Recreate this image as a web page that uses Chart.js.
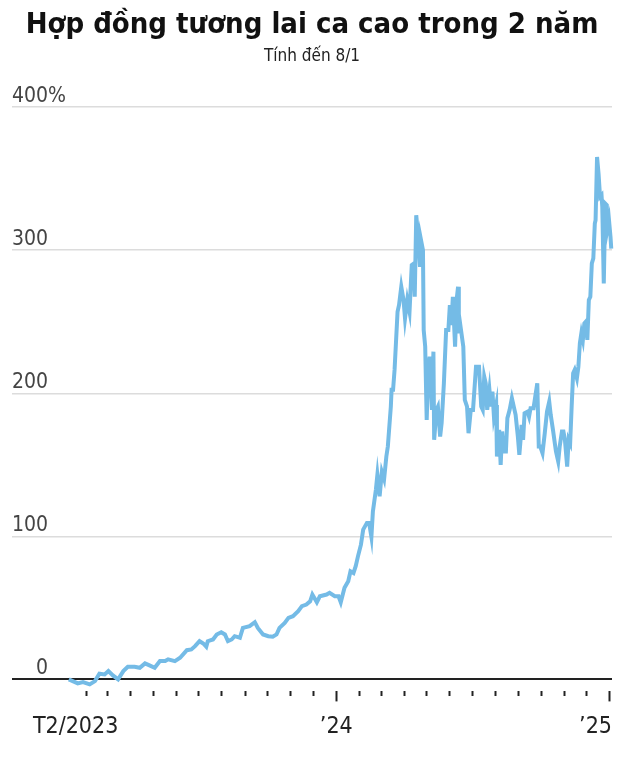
<!DOCTYPE html>
<html>
<head>
<meta charset="utf-8">
<script src="https://cdn.jsdelivr.net/npm/chart.js@4.4.1/dist/chart.umd.min.js"></script>
<style>
  html, body { margin: 0; padding: 0; background: #fff; }
  #wrap { width: 634px; height: 764px; }
</style>
</head>
<body>
<div id="wrap"><canvas id="chart"></canvas></div>
<script>
// ngày tính từ 8/1/2023, % thay đổi giá
const dayNo = [
  0, 12, 19, 28, 35, 41, 48, 53, 59, 66, 73, 79, 88, 95, 102, 108, 115, 122, 129, 133,
  142, 149, 158, 164, 169, 175, 180, 184, 186, 193, 198, 204, 209, 213, 218, 222, 229, 233, 242, 249,
  253, 260, 267, 273, 278, 282, 289, 294, 300, 307, 312, 318, 323, 326, 332, 336, 345, 349, 356, 361,
  364, 369, 374, 377, 381, 384, 387, 391, 394, 399, 402, 405, 407, 411, 413, 416, 419, 422, 425, 427,
  431, 432, 434, 436, 440, 442, 445, 448, 450, 453, 456, 459, 462, 463, 465, 468, 470, 471, 474, 475,
  477, 479, 481, 483, 486, 488, 489, 492, 494, 497, 499, 502, 505, 508, 510, 512, 514, 517, 519, 521,
  522, 524, 528, 530, 533, 535, 538, 541, 545, 549, 552, 554, 556, 558, 560, 563, 565, 567, 569, 572,
  573, 576, 578, 580, 582, 585, 587, 590, 593, 596, 598, 601, 603, 605, 606, 608, 610, 614, 616, 618,
  622, 624, 627, 629, 631, 634, 637, 640, 643, 645, 648, 652, 655, 657, 660, 662, 664, 667, 669, 671,
  673, 675, 677, 680, 682, 684, 686, 688, 690, 692, 694, 696, 698, 700, 702, 704, 705, 707, 709, 711,
  713, 714, 716, 718, 720, 721, 723, 725, 726
];
const pctChange = [
  0, -2.8, -1.9, -3.5, -1.2, 4, 3.5, 5.8, 2.8, 0, 5.8, 8.8, 8.8, 8.1, 11.2, 9.8, 8.1, 12.8, 12.8, 14,
  12.8, 15.1, 20.4, 20.9, 23.2, 26.7, 25.1, 22.8, 26.7, 27.9, 31.4, 33, 31.4, 26.7, 27.9, 30.2, 29.1, 36, 37.2, 40,
  36, 31.4, 30.2, 29.8, 31.4, 36, 39.5, 43, 44.2, 47.7, 51.2, 52.3, 54.6, 59.3, 53.9, 58.1, 59.3, 60.5, 58.1, 58.1,
  53.9, 64, 68.6, 75.6, 74.4, 79.1, 86, 94.2, 104.7, 109.4, 109.4, 99.6, 117.4, 132.6, 143, 128, 145, 140, 155.8, 162.8,
  190.7, 202.4, 202.4, 216.3, 257, 261.7, 274.5, 265.2, 252.4, 265.2, 257, 289.6, 290.8, 267.5, 324.5, 307, 288.4, 308.2, 300, 244.2,
  232.6, 181.4, 216.3, 225.6, 188.4, 229.1, 167.5, 188.4, 190.7, 169.8, 179.1, 207, 244.2, 244.2, 261.7, 247.7, 267.5, 232.6, 265.2, 274.5,
  241.9, 247.7, 232.6, 195.3, 190.7, 172.1, 188.4, 188.4, 218.6, 218.6, 190.7, 188.4, 211.7, 207, 188.4, 202.4, 190.7, 201.2, 183.7, 191.9,
  155.8, 174.4, 150, 173.3, 159.3, 159.3, 182.6, 188.4, 196.6, 189.6, 184.9, 169.8, 157, 169.8, 177.9, 167.5, 186.1, 187.2, 183.7, 189.6,
  189.6, 196.6, 207, 162.8, 162.8, 158.2, 172.1, 187.2, 194.2, 184.9, 174.4, 159.3, 152.3, 162.8, 173.3, 173.3, 167.5, 148.8, 167.5, 165.1,
  190.7, 214, 216.3, 210.5, 218.6, 235, 242, 237.3, 248.9, 250.1, 237.3, 265.2, 267.5, 290.8, 294.3, 318.7, 321, 365.2, 353.6, 337.3,
  338.5, 330.3, 276.8, 332.6, 331.5, 315.2, 321, 309.4, 301.2
];
const yTicks = [0, 100, 200, 300, 400];
const yLabels = ["\u2007\u20070", "100", "200", "300", "400%"];
const xLabels = ["T2/2023", "\u201924", "\u201925"];

const FONT = "'Liberation Sans Narrow', 'DejaVu Sans Condensed', 'Roboto Condensed', 'Noto Sans', sans-serif";
const start = Date.UTC(2023, 0, 8);
const DAY = 86400000;

// vạch tháng từ T2/2023 đến T1/2025
const monthTicks = [];
for (let i = 0; i < 24; i++) {
  const m = 1 + i;
  monthTicks.push({ value: (Date.UTC(2023, m, 1) - start) / DAY, major: m % 12 === 0 });
}
const labelPos = [-48, (Date.UTC(2024, 0, 1) - start) / DAY, 727];

const points = dayNo.map((d, i) => ({ x: d, y: pctChange[i] }));

new Chart(document.getElementById("chart"), {
  type: "line",
  data: {
    datasets: [{
      data: points,
      borderColor: "#74bbe6",
      borderWidth: 4,
      pointRadius: 0,
      tension: 0,
      clip: false
    }]
  },
  options: {
    responsive: true,
    maintainAspectRatio: false,
    animation: false,
    layout: { autoPadding: false, padding: { top: 2, left: 12, right: 22, bottom: 11 } },
    plugins: {
      legend: { display: false },
      tooltip: { enabled: false },
      title: {
        display: true,
        text: "Hợp đồng tương lai ca cao trong 2 năm",
        color: "#111",
        font: { family: FONT, size: 29, weight: "bold" },
        padding: { top: 6, bottom: 4 }
      },
      subtitle: {
        display: true,
        text: "Tính đến 8/1",
        color: "#222",
        font: { family: FONT, size: 17 },
        padding: { top: 0, bottom: 40 }
      }
    },
    scales: {
      x: {
        type: "linear",
        min: -76,
        max: 727,
        position: "bottom",
        weight: 0,
        afterBuildTicks: axis => { axis.ticks = monthTicks.map(t => ({ ...t })); },
        border: { display: false },
        grid: {
          drawOnChartArea: false,
          drawTicks: true,
          tickLength: 10,
          tickWidth: 2,
          tickColor: "#222",
          tickBorderDash: ctx => (ctx.tick && ctx.tick.major) ? [] : [5, 30]
        },
        ticks: { display: false }
      },
      x2: {
        type: "linear",
        min: -76,
        max: 727,
        position: "bottom",
        weight: 1,
        afterBuildTicks: axis => { axis.ticks = labelPos.map(v => ({ value: v })); },
        border: { display: false },
        grid: { display: false, drawTicks: false },
        ticks: {
          align: "inner",
          autoSkip: false,
          maxRotation: 0,
          padding: 12,
          color: "#222",
          font: { family: FONT, size: 23 },
          callback: (v, i) => xLabels[i]
        }
      },
      y: {
        min: -8.4,
        max: 400,
        afterBuildTicks: axis => { axis.ticks = yTicks.map(v => ({ value: v })); },
        border: { display: false },
        grid: {
          drawTicks: false,
          color: ctx => ctx.tick && ctx.tick.value === 0 ? "#222" : "#dcdcdc",
          lineWidth: ctx => ctx.tick && ctx.tick.value === 0 ? 2 : 1.5
        },
        ticks: {
          mirror: true,
          padding: 0,
          labelOffset: -11,
          color: "#444",
          font: { family: FONT, size: 21 },
          callback: (v, i) => yLabels[i]
        }
      }
    }
  }
});
</script>
</body>
</html>
